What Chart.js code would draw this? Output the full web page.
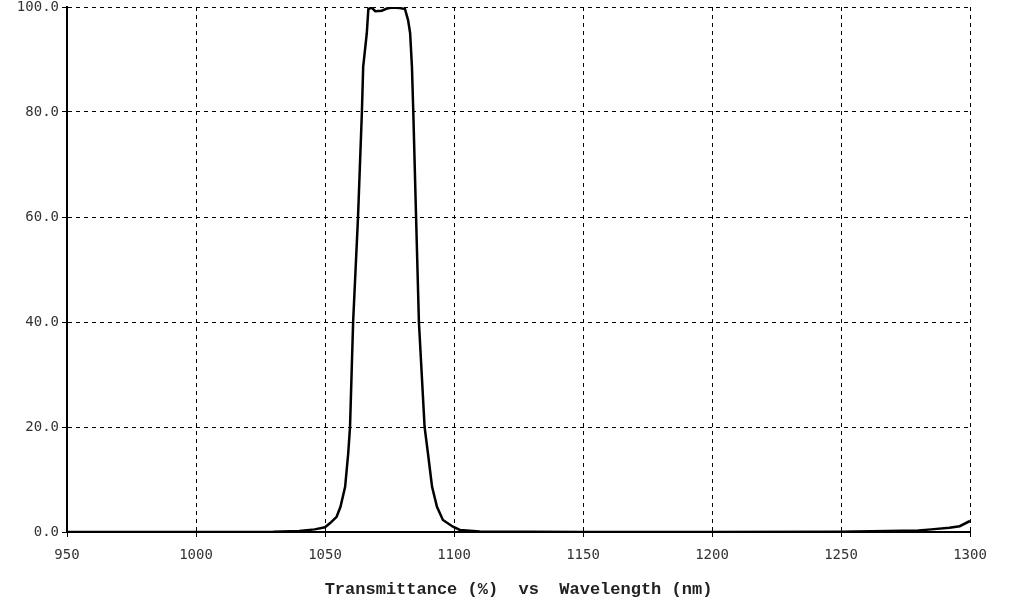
<!DOCTYPE html>
<html>
  <head>
    <title>Transmittance vs Wavelength</title>
    <script src="https://cdn.jsdelivr.net/npm/chart.js"></script>
    <style>
      html, body { margin: 0; padding: 0; background: #fff; }
      #wrap { width: 1012px; height: 604px; }
    </style>
  </head>
  <body>
    <div id="wrap"><canvas id="specChart" width="1012" height="604"></canvas></div>

    <script>
      // wavelength (nm) and transmittance (%)
      const wavelength = [950, 1000, 1030, 1040, 1046, 1050, 1052, 1054.5, 1056, 1057.8, 1059, 1059.7,
        1060.9, 1062.8, 1064.3, 1064.8, 1066.2, 1066.8, 1068, 1069.5, 1072, 1074, 1076, 1079, 1081,
        1082.2, 1083, 1083.7, 1084.2, 1085.3, 1086.4, 1088.6, 1089.9, 1091.5, 1093.4, 1095.7, 1099.6,
        1102.3, 1110, 1150, 1200, 1250, 1280, 1285, 1292, 1296, 1300];
      const transmittance = [0.0, 0.0, 0.05, 0.2, 0.5, 0.9, 1.7, 2.9, 4.8, 8.6, 15, 20,
        40, 60, 80, 88.6, 95, 99.6, 99.9, 99.2, 99.3, 99.7, 99.9, 99.8, 99.6,
        97.5, 95, 88.6, 80.4, 60, 40, 20, 15, 8.6, 4.8, 2.3, 1.0,
        0.4, 0.1, 0.0, 0.0, 0.05, 0.3, 0.5, 0.8, 1.1, 2.1];
      const xTicks = [950, 1000, 1050, 1100, 1150, 1200, 1250, 1300];
      const yTicks = [0, 20, 40, 60, 80, 100];
      const chartTitle = 'Transmittance (%)  vs  Wavelength (nm)';

      const points = wavelength.map((w, i) => ({ x: w, y: transmittance[i] }));

      const tickFont = { family: 'DejaVu Sans Mono', size: 14 };

      const ctx = document.getElementById('specChart').getContext('2d');
      const specChart = new Chart(ctx, {
        type: 'scatter',
        data: {
          datasets: [{
            data: points,
            showLine: true,
            borderColor: '#000',
            borderWidth: 2.5,
            pointRadius: 0,
            tension: 0,
            fill: false
          }]
        },
        options: {
          responsive: false,
          animation: false,
          layout: { padding: { top: 7, right: 42, left: 0, bottom: 0 } },
          plugins: { legend: { display: false }, tooltip: { enabled: false } },
          scales: {
            x: {
              type: 'linear',
              min: 950,
              max: 1300,
              afterBuildTicks: (axis) => { axis.ticks = xTicks.map(v => ({ value: v })); },
              afterFit: (axis) => { axis.height = 72; },
              border: { display: true, color: '#000', width: 2, dash: [4, 4] },
              grid: {
                color: '#000',
                lineWidth: 1,
                tickLength: 5,
                tickBorderDash: [],
                tickColor: '#000'
              },
              ticks: {
                color: '#333',
                font: tickFont,
                padding: 10,
                maxRotation: 0,
                callback: (v) => String(v)
              },
              title: {
                display: true,
                text: chartTitle,
                color: '#222',
                font: { family: 'Liberation Mono', size: 17, weight: 'bold' },
                padding: { top: 4 }
              }
            },
            y: {
              min: 0,
              max: 100,
              afterBuildTicks: (axis) => { axis.ticks = yTicks.map(v => ({ value: v })); },
              afterFit: (axis) => {
                axis.width = 67;
                axis.paddingTop = 0;
                axis.paddingBottom = 0;
              },
              border: { display: true, color: '#000', width: 2, dash: [4, 4] },
              grid: {
                color: '#000',
                lineWidth: 1,
                tickLength: 5,
                tickBorderDash: [],
                tickColor: '#000'
              },
              ticks: {
                color: '#333',
                font: tickFont,
                padding: 3,
                callback: (v) => v.toFixed(1)
              }
            }
          }
        }
      });
    </script>
  </body>
</html>
